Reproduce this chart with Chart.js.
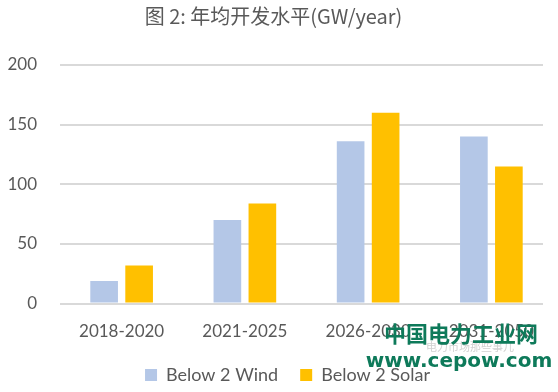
<!DOCTYPE html>
<html>
<head>
<meta charset="utf-8">
<script src="https://cdn.jsdelivr.net/npm/chart.js@4"></script>
<style>
  html, body { margin: 0; padding: 0; background: #ffffff; }
  #wrap { width: 558px; height: 392px; }
</style>
</head>
<body>
<div id="wrap"><canvas id="chart" width="558" height="392"></canvas></div>
<script>
// chart values
const categories = ['2018-2020', '2021-2025', '2026-2030', '2031-2050'];
const windValues = [19, 70, 136, 140];
const solarValues = [32, 84, 160, 115];
const yTicks = [0, 50, 100, 150, 200];

const textColor = '#595959';
const labelFont = 'Lato, "Open Sans", sans-serif';

// the original plot spreads its categories a bit wider than the gridlines,
// and its legend sits closer to the axis than chart.js would put it
const layoutTweaks = {
  id: 'layoutTweaks',
  afterInit(chart) {
    const legend = chart.legend;
    const fit = legend.fit;
    legend.fit = function () {
      fit.call(this);
      this.height = 28;
    };
  },
  afterLayout(chart) {
    const x = chart.scales.x;
    x.right = x.left + 493;
    x.width = 493;
    x.configure();

    const legend = chart.legend;
    legend.top = 344;
    legend.bottom = 392;
    legend.height = 48;
    legend.left += 14;
    legend.right += 14;
  }
};

// watermark overlay seen on the reference
const watermark = {
  id: 'watermark',
  afterDraw(chart) {
    const ctx = chart.ctx;
    ctx.save();
    ctx.textAlign = 'center';
    ctx.textBaseline = 'middle';
    ctx.fillStyle = 'rgba(150,150,150,0.45)';
    ctx.font = '11px "Noto Sans CJK SC"';
    ctx.fillText('电力市场那些事儿', 470, 347);
    ctx.fillStyle = '#0e7a5a';
    ctx.font = 'bold 22px "Noto Sans CJK SC"';
    ctx.fillText('中国电力工业网', 461, 334);
    ctx.font = 'bold 20px "DejaVu Sans"';
    ctx.fillText('www.cepow.com', 459, 362);
    ctx.restore();
  }
};

function generateChart(canvasId) {
  const canvas = document.getElementById(canvasId);
  if (!canvas) {
    console.error(`Canvas with ID "${canvasId}" not found.`);
    return null;
  }

  return new Chart(canvas, {
    type: 'bar',
    data: {
      labels: categories,
      datasets: [
        {
          label: 'Below 2 Wind',
          data: windValues,
          backgroundColor: '#b4c7e7',
          categoryPercentage: 0.568,
          barPercentage: 0.79
        },
        {
          label: 'Below 2 Solar',
          data: solarValues,
          backgroundColor: '#ffc000',
          categoryPercentage: 0.568,
          barPercentage: 0.79
        }
      ]
    },
    options: {
      responsive: false,
      animation: false,
      layout: { padding: { left: 4, right: 15, top: 0, bottom: 4 } },
      plugins: {
        title: {
          display: true,
          text: '图 2: 年均开发水平(GW/year)',
          color: textColor,
          font: { family: '"Noto Sans CJK SC"', size: 20, weight: 'normal' },
          padding: { top: 4, bottom: 37 }
        },
        legend: {
          position: 'bottom',
          labels: {
            color: textColor,
            boxWidth: 12,
            boxHeight: 12,
            padding: 22,
            font: { family: labelFont, size: 18 }
          }
        },
        tooltip: { enabled: false }
      },
      scales: {
        x: {
          grid: { display: false, drawTicks: false },
          border: { display: false },
          ticks: { color: textColor, padding: 18, font: { family: labelFont, size: 17 } }
        },
        y: {
          min: 0,
          max: 200,
          afterBuildTicks(axis) {
            axis.ticks = yTicks.map(v => ({ value: v }));
          },
          afterFit(axis) {
            axis.width = 56;
          },
          grid: { color: '#d9d9d9', lineWidth: 2, drawTicks: false },
          border: { display: false },
          ticks: { color: textColor, padding: 23, font: { family: labelFont, size: 17 } }
        }
      }
    },
    plugins: [layoutTweaks, watermark]
  });
}

generateChart('chart');
</script>
</body>
</html>
